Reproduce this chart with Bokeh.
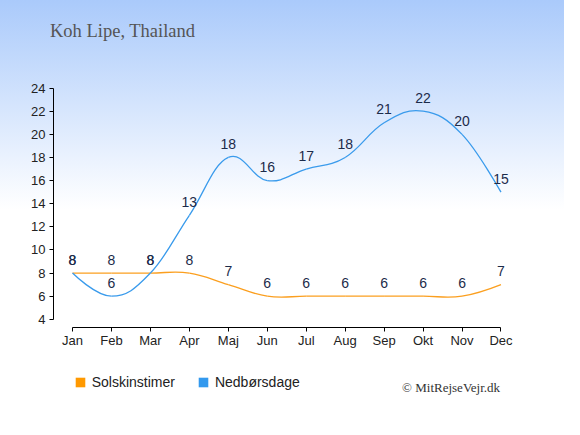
import numpy as np
from bokeh.plotting import figure
from bokeh.models import Range1d, FixedTicker, Legend, LegendItem, Label, ColumnDataSource
from bokeh.embed import file_html
from bokeh.resources import INLINE
from bokeh.core.properties import value

# ---- data ----
months = ["Jan", "Feb", "Mar", "Apr", "Maj", "Jun", "Jul", "Aug", "Sep", "Okt", "Nov", "Dec"]
sun_hours = [8, 8, 8, 8, 7, 6, 6, 6, 6, 6, 6, 7]
rain_days = [8, 6, 8, 13, 18, 16, 17, 18, 21, 22, 20, 15]
y_ticks = [4, 6, 8, 10, 12, 14, 16, 18, 20, 22, 24]
title_text = "Koh Lipe, Thailand"
series_names = ["Solskinstimer", "Nedbørsdage"]
credit_text = "© MitRejseVejr.dk"

SUN_COLOR = "#fb9f1f"
RAIN_COLOR = "#3a9bec"
SUN_KEY = "#ff9900"
RAIN_KEY = "#3399ee"
LABEL_COLOR = "#1c2b4a"


def spline_source(xs, ys, smoothing=1.5):
    n = len(xs)
    lefts, rights = [], []
    d = smoothing + 1.0
    for i in range(n):
        if i == 0 or i == n - 1:
            lefts.append((xs[i], ys[i]))
            rights.append((xs[i], ys[i]))
            continue
        lcx = (smoothing * xs[i] + xs[i - 1]) / d
        lcy = (smoothing * ys[i] + ys[i - 1]) / d
        rcx = (smoothing * xs[i] + xs[i + 1]) / d
        rcy = (smoothing * ys[i] + ys[i + 1]) / d
        corr = (rcy - lcy) * (rcx - xs[i]) / (rcx - lcx) + ys[i] - rcy
        lefts.append((lcx, lcy + corr))
        rights.append((rcx, rcy + corr))
    return ColumnDataSource(dict(
        x0=xs[:-1], y0=ys[:-1], x1=xs[1:], y1=ys[1:],
        cx0=[r[0] for r in rights[:-1]], cy0=[r[1] for r in rights[:-1]],
        cx1=[l[0] for l in lefts[1:]], cy1=[l[1] for l in lefts[1:]],
    ))


idx = list(range(len(months)))

p = figure(width=564, height=419, output_backend="svg", toolbar_location=None,
           x_range=Range1d(-0.488, 11.758), y_range=Range1d(-4.667, 27.685),
           min_border_left=53, min_border_right=34, min_border_top=45, min_border_bottom=0)

p.styles = {"background": "linear-gradient(to bottom, #aacafb 0%, #ffffff 50%, #ffffff 100%)"}
p.border_fill_color = None
p.background_fill_color = None
p.outline_line_color = None
p.grid.visible = False

# title
p.title.text = title_text
p.title.text_font = "Liberation Serif"
p.title.text_font_size = "18.5px"
p.title.text_font_style = "normal"
p.title.text_color = "#555555"
p.title.align = "left"
p.title.offset = -3.5

# axes
p.xaxis.ticker = FixedTicker(ticks=idx)
p.xaxis.major_label_overrides = {i: m for i, m in enumerate(months)}
p.xaxis.bounds = (0, len(months) - 1)
p.xaxis.fixed_location = 3.25
p.yaxis.ticker = FixedTicker(ticks=y_ticks)
p.yaxis.bounds = (y_ticks[0], y_ticks[-1])
for ax in (p.xaxis, p.yaxis):
    ax.axis_line_color = "#000000"
    ax.major_tick_line_color = "#000000"
    ax.major_tick_out = 4
    ax.major_tick_in = 0
    ax.minor_tick_line_color = None
    ax.major_label_text_font = "Liberation Sans"
    ax.major_label_text_font_size = "13px"
    ax.major_label_text_color = "#222222"
p.xaxis.major_label_standoff = 1
p.yaxis.major_label_standoff = 4

# curves
p.bezier(x0="x0", y0="y0", x1="x1", y1="y1", cx0="cx0", cy0="cy0", cx1="cx1", cy1="cy1",
         source=spline_source(idx, sun_hours), line_color=SUN_COLOR, line_width=1.3)
p.bezier(x0="x0", y0="y0", x1="x1", y1="y1", cx0="cx0", cy0="cy0", cx1="cx1", cy1="cy1",
         source=spline_source(idx, rain_days), line_color=RAIN_COLOR, line_width=1.3)

# value labels
for vals in (sun_hours, rain_days):
    p.text(x=idx, y=vals, text=[str(v) for v in vals], text_align="center",
           text_baseline="middle", y_offset=-13.5, text_font=value("Liberation Sans"),
           text_font_size="14px", text_color=LABEL_COLOR)

# legend proxies (never visible in the plot area)
nan = [float("nan")]
sq_sun = p.quad(left=nan, right=nan, top=nan, bottom=nan, fill_color=SUN_KEY, line_color=None)
sq_rain = p.quad(left=nan, right=nan, top=nan, bottom=nan, fill_color=RAIN_KEY, line_color=None)
legend = Legend(items=[LegendItem(label=series_names[0], renderers=[sq_sun]),
                       LegendItem(label=series_names[1], renderers=[sq_rain])],
                orientation="horizontal", location=(20.7, 28.7),
                glyph_width=12, glyph_height=12, label_standoff=6, spacing=22,
                label_text_font="Liberation Sans", label_text_font_size="14px",
                label_text_color="#222222", label_height=12,
                border_line_color=None, background_fill_alpha=0,
                margin=0, padding=0)
p.add_layout(legend)

credit = Label(x=348.6, y=32.5, x_units="screen", y_units="screen", text=credit_text,
               text_font="Liberation Serif", text_font_size="13px", text_color="#333333",
               text_baseline="alphabetic")
p.add_layout(credit)

open("out.html", "w").write(file_html(p, INLINE))
